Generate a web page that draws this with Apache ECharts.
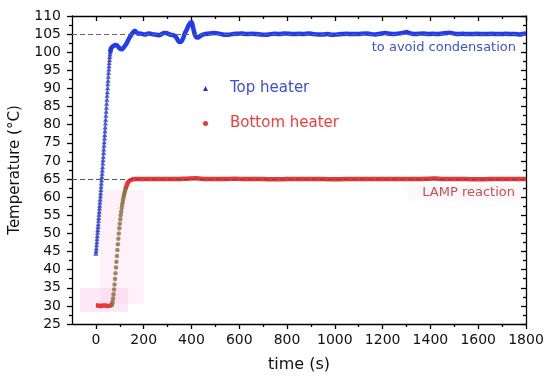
<!DOCTYPE html>
<html>
<head>
<meta charset="utf-8">
<script src="https://cdn.jsdelivr.net/npm/echarts@6/dist/echarts.min.js"></script>
<style>html,body{margin:0;padding:0;background:#fff}#c{width:550px;height:381px}</style>
</head>
<body>
<div id="c"></div>
<script>
// ---- data (time in s, temperature in °C) ----
const topRiseTime = [0,1,2,3,4,5,6,7,8,9,10,11,12,13,14,15,16,17,18,19,20,21,22,23,24,25,26,27,28,29,30,31,32,33,34,35,36,37,38,39,40,41,42,43,44,45,46,47,48,49,50,51,52,53,54,55,56,57,58,59,60,61,62];
const topRiseTemp = [44.5,45.2,46.0,46.9,47.7,48.6,49.4,50.3,51.1,51.9,52.7,53.6,54.4,55.3,56.1,57.0,57.8,58.7,59.5,60.4,61.2,62.1,63.0,63.9,64.8,65.7,66.6,67.5,68.4,69.4,70.3,71.3,72.3,73.3,74.3,75.3,76.3,77.3,78.3,79.4,80.5,81.5,82.6,83.7,84.8,85.9,87.0,88.1,89.1,90.2,91.3,92.3,93.4,94.4,95.4,96.3,97.2,98.0,98.8,99.5,100.1,100.6,101.0];
const topHoldTime = [60,63,68,75,82,88,95,102,108,115,122,128,135,142,150,157,163,170,178,186,195,205,215,225,235,245,255,265,275,285,295,305,315,325,335,342,348,354,360,366,372,380,388,396,401,406,411,416,421,428,435,445,455,465,480,495,510,525,540,555,570,590,610,630,650,670,690,710,730,750,770,790,810,830,850,870,890,910,930,950,970,990,1010,1030,1050,1070,1090,1110,1130,1150,1170,1190,1210,1230,1250,1270,1290,1300,1310,1330,1350,1370,1390,1410,1430,1450,1470,1480,1495,1515,1535,1555,1575,1595,1615,1635,1655,1675,1695,1715,1735,1755,1775,1790,1800];
const topHoldTemp = [100.1,101.0,101.5,101.8,102.0,101.9,101.4,100.9,100.8,101.2,101.8,102.4,103.3,104.2,105.0,105.6,105.9,105.5,105.1,105.2,105.0,104.9,105.1,105.2,105.0,104.9,104.8,104.7,105.0,105.3,105.3,105.0,104.8,104.7,104.2,103.4,102.9,102.8,103.2,104.0,105.2,106.2,107.4,108.2,108.3,107.0,105.6,104.6,104.1,104.1,104.4,104.8,105.0,105.1,105.2,105.3,105.2,105.0,104.8,104.8,105.0,105.1,105.2,105.0,105.1,105.0,104.9,104.8,105.0,105.1,105.0,105.2,105.1,105.0,105.1,105.0,105.2,105.0,104.9,104.9,105.0,104.8,104.9,105.0,105.1,105.0,105.0,105.1,105.2,105.0,104.9,105.1,105.3,105.1,105.0,105.2,105.4,105.6,105.3,105.0,105.1,105.2,105.0,105.1,105.0,105.2,105.3,105.4,105.2,105.0,105.1,105.0,105.0,105.1,105.0,105.0,105.1,105.0,105.0,105.1,105.0,105.0,104.9,105.1,105.2];

const botStartTime = [0,10,20,30,40,50,60,66];
const botStartTemp = [30.1,30.1,30.0,30.1,30.1,30.0,30.1,30.2];
const botRiseTime = [66,68,70,72,74,76,78,80,82,84,86,88,90,92,94,96,98,100,102,104,106,108,110,112,114,116,118,120,122,124];
const botRiseTemp = [30.2,30.6,31.2,32.1,33.2,34.5,35.9,37.4,39.0,40.6,42.2,43.8,45.4,47.0,48.5,50.0,51.4,52.7,53.9,55.0,56.0,57.0,57.9,58.7,59.4,60.1,60.7,61.3,61.8,62.3];
const botHoldTime = [124,128,132,136,140,145,150,156,163,170,180,200,230,260,300,340,380,420,460,500,540,580,620,660,700,750,800,850,900,950,1000,1050,1100,1150,1200,1250,1300,1350,1400,1420,1450,1500,1550,1600,1650,1700,1750,1800];
const botHoldTemp = [62.3,63.1,63.8,64.2,64.5,64.7,64.85,64.95,65.0,65.0,65.0,65.0,65.0,65.0,65.0,65.0,65.1,65.2,65.0,65.0,65.0,65.1,65.0,65.0,65.0,64.95,65.0,65.0,65.0,65.0,64.95,65.0,65.0,65.0,65.0,65.0,65.0,65.0,65.1,65.15,65.0,65.0,65.0,64.95,65.0,65.0,65.0,65.0];

const xMajorTicks = [0,200,400,600,800,1000,1200,1400,1600,1800];
const xMinorTicks = [100,300,500,700,900,1100,1300,1500,1700];
const yRange = [25, 110];
const targetTop = 105, targetBottom = 65;
const seriesNames = ['Top heater', 'Bottom heater'];
const noteTop = 'to avoid condensation';
const noteBottom = 'LAMP reaction';

const zip = (a, b) => a.map((v, i) => [v, b[i]]);
const FONT = 'DejaVu Sans';
const BLUE = '#1f3cf0', BLUE_DOT = '#2233d0', RED = '#ee3434', BROWN = '#8d6a3c';

const chart = echarts.init(document.getElementById('c'), null, {renderer: 'canvas'});
const axisLine = {show: true, onZero: false, lineStyle: {color: '#000', width: 1.3}};
const noLine = {show: false, onZero: false};
const tickStyle = {color: '#000', width: 1.3};
const plain = v => String(v);
const xBase = {type: 'value', min: -100, max: 1800, splitLine: {show: false}};
chart.setOption({
  animation: false,
  backgroundColor: '#fff',
  grid: {left: 72, right: 24, top: 16, bottom: 57},
  xAxis: [
    Object.assign({}, xBase, {
      position: 'bottom', axisLine,
      axisTick: {show: true, length: 5, lineStyle: tickStyle, customValues: xMajorTicks},
      axisLabel: {customValues: xMajorTicks, formatter: plain, margin: 9, color: '#111', fontFamily: FONT, fontSize: 14},
      name: 'time (s)', nameLocation: 'middle', nameGap: 33,
      nameTextStyle: {color: '#111', fontFamily: FONT, fontSize: 16}
    }),
    Object.assign({}, xBase, {
      position: 'bottom', axisLine: noLine,
      axisTick: {show: true, length: 3, lineStyle: tickStyle, customValues: xMinorTicks},
      axisLabel: {show: false}
    }),
    Object.assign({}, xBase, {
      position: 'top', axisLine,
      axisTick: {show: true, inside: true, length: 5, lineStyle: tickStyle, customValues: xMajorTicks},
      axisLabel: {show: false}
    }),
    Object.assign({}, xBase, {
      position: 'top', axisLine: noLine,
      axisTick: {show: true, inside: true, length: 3, lineStyle: tickStyle, customValues: xMinorTicks},
      axisLabel: {show: false}
    })
  ],
  yAxis: [
    {
      type: 'value', min: yRange[0], max: yRange[1], interval: 5, position: 'left',
      axisLine, splitLine: {show: false},
      axisTick: {show: true, length: 5, lineStyle: tickStyle},
      minorTick: {show: true, splitNumber: 2, length: 3, lineStyle: tickStyle},
      axisLabel: {margin: 11, formatter: plain, color: '#111', fontFamily: FONT, fontSize: 14},
      name: 'Temperature (°C)', nameLocation: 'middle', nameGap: 49,
      nameTextStyle: {color: '#111', fontFamily: FONT, fontSize: 15}
    },
    {
      type: 'value', min: yRange[0], max: yRange[1], interval: 5, position: 'right',
      axisLine, splitLine: {show: false},
      axisTick: {show: true, inside: true, length: 5, lineStyle: tickStyle},
      minorTick: {show: true, splitNumber: 2, length: 3, lineStyle: tickStyle},
      axisLabel: {show: false}
    }
  ],
  legend: {
    orient: 'vertical', left: 198, top: 76, itemWidth: 5, itemHeight: 5, itemGap: 20,
    selectedMode: false,
    textStyle: {fontFamily: FONT, fontSize: 15, padding: [0, 0, 0, 17]},
    data: [
      {name: seriesNames[0], icon: 'triangle', textStyle: {color: '#3a4ed8', padding: [0, 0, 0, 17]}},
      {name: seriesNames[1], icon: 'circle', textStyle: {color: '#f03c3c', padding: [0, 0, 0, 17]}}
    ]
  },
  graphic: [
    {type: 'rect', z: 0, shape: {x: 100, y: 190, width: 44, height: 114}, style: {fill: 'rgba(250,205,238,0.28)'}},
    {type: 'rect', z: 0, shape: {x: 80, y: 288, width: 48, height: 24}, style: {fill: 'rgba(250,190,225,0.35)'}},
    {type: 'rect', z: 0, shape: {x: 408, y: 185, width: 112, height: 16}, style: {fill: 'rgba(252,225,238,0.25)'}},
    {type: 'text', z: 10, x: 516, y: 47.5, style: {text: noteTop, align: 'right', verticalAlign: 'middle', fill: '#3d52d4', fontFamily: FONT, fontSize: 13}},
    {type: 'text', z: 10, x: 515, y: 192.5, style: {text: noteBottom, align: 'right', verticalAlign: 'middle', fill: '#c85050', fontFamily: FONT, fontSize: 13}}
  ],
  series: [
    {
      name: seriesNames[0], type: 'line', data: zip(topHoldTime, topHoldTemp),
      symbol: 'none', smooth: 0.3, lineStyle: {color: BLUE, width: 4.5}, itemStyle: {color: BLUE_DOT},
      silent: true, z: 3,
      markLine: {silent: true, symbol: 'none', label: {show: false},
        lineStyle: {color: '#666', width: 1, type: [5, 3]}, data: [{yAxis: targetTop}]}
    },
    {
      name: seriesNames[0], type: 'scatter', data: zip(topRiseTime, topRiseTemp),
      symbol: 'triangle', symbolSize: 5, itemStyle: {color: BLUE_DOT}, silent: true, z: 4
    },
    {
      name: seriesNames[1], type: 'line',
      data: zip(botStartTime, botStartTemp).concat([[95, '-']], zip(botHoldTime, botHoldTemp)),
      connectNulls: false, symbol: 'none', smooth: 0.3, lineStyle: {color: RED, width: 4.5}, itemStyle: {color: RED},
      silent: true, z: 3,
      markLine: {silent: true, symbol: 'none', label: {show: false},
        lineStyle: {color: '#555', width: 1, type: [5, 3]}, data: [{yAxis: targetBottom}]}
    },
    {
      name: seriesNames[1], type: 'scatter', data: zip(botRiseTime, botRiseTemp),
      symbol: 'circle', symbolSize: 4.5, itemStyle: {color: BROWN}, silent: true, z: 4
    }
  ]
});
</script>
</body>
</html>
